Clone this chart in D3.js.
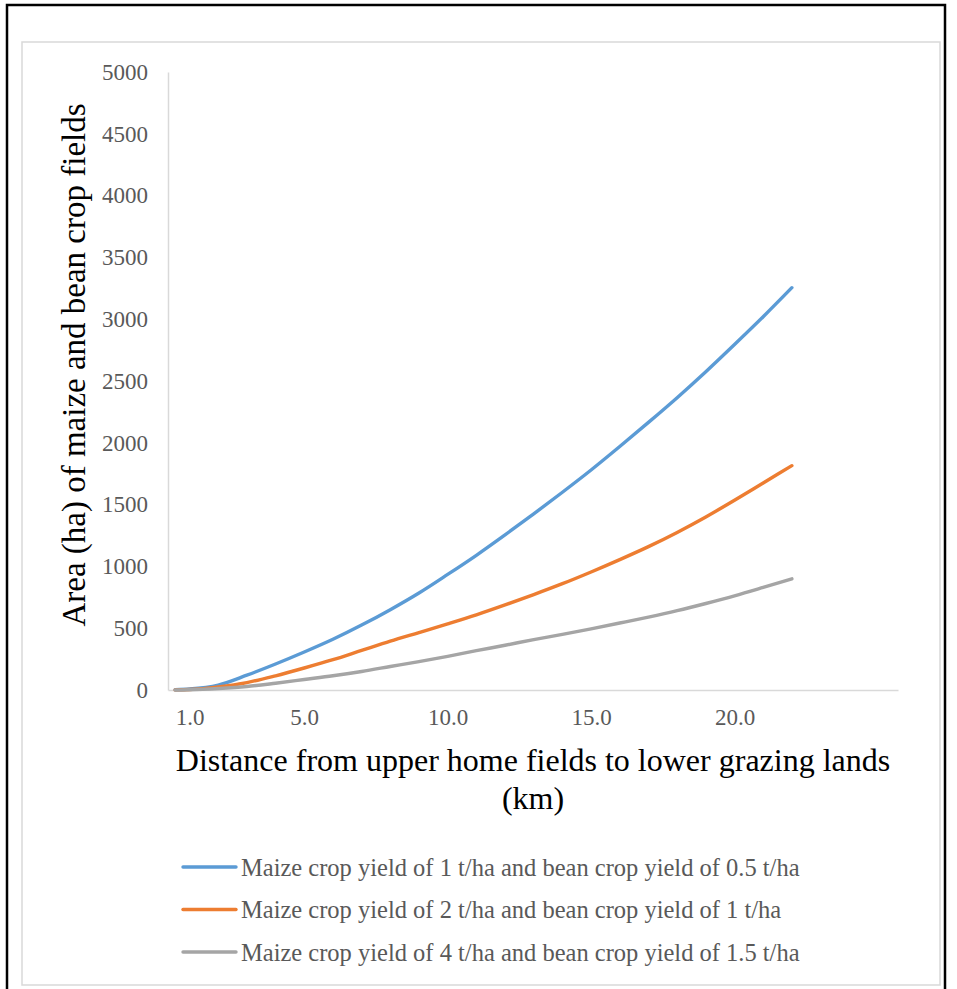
<!DOCTYPE html>
<html>
<head>
<meta charset="utf-8">
<script src="https://cdn.jsdelivr.net/npm/d3@7"></script>
<style>
  html, body { margin: 0; padding: 0; background: #fff; }
  svg { display: block; }
  text { font-family: "Liberation Serif", "Times New Roman", serif; }
</style>
</head>
<body>
<svg id="chart" width="957" height="989"></svg>
<script>
// ---- data ----
const distances = [0.5, 1, 2, 3, 4, 5, 6, 7, 8, 9, 10, 11, 12, 13, 14, 15, 16, 17, 18, 19, 20, 21, 22];
const maize1Bean05 = [2, 8, 40, 120, 210, 307, 410, 525, 650, 785, 935, 1090, 1255, 1425, 1600, 1780, 1970, 2165, 2365, 2575, 2795, 3020, 3255];
const maize2Bean1  = [1, 4, 25, 60, 115, 178, 245, 320, 395, 465, 535, 608, 688, 772, 860, 955, 1055, 1160, 1275, 1400, 1535, 1675, 1815];
const maize4Bean15 = [0, 2, 12, 28, 55, 85, 115, 150, 190, 230, 272, 318, 362, 408, 450, 495, 542, 590, 642, 700, 762, 830, 900];
const seriesNames = [
  "Maize crop yield of 1 t/ha and bean crop yield of 0.5 t/ha",
  "Maize crop yield of 2 t/ha and bean crop yield of 1 t/ha",
  "Maize crop yield of 4 t/ha and bean crop yield of 1.5 t/ha"
];
const seriesColors = ["#5b9bd5", "#ed7d31", "#a5a5a5"];
const xTickValues = [1, 5, 10, 15, 20];
const yTickValues = [0, 500, 1000, 1500, 2000, 2500, 3000, 3500, 4000, 4500, 5000];
const yTitle = "Area (ha) of maize and bean crop fields";
const xTitleLines = ["Distance from upper home fields to lower grazing lands", "(km)"];

const seriesValues = [maize1Bean05, maize2Bean1, maize4Bean15];

// ---- drawing ----
const svg = d3.select("#chart");
const textColor = "#595959";
const serif = "'Liberation Serif', 'Times New Roman', serif";

// outer black frame
svg.append("rect").attr("x", 7).attr("y", 5).attr("width", 938).attr("height", 990)
  .attr("fill", "none").attr("stroke", "#000").attr("stroke-width", 2.5);
// inner chart area border
svg.append("rect").attr("x", 22).attr("y", 42).attr("width", 918).attr("height", 943)
  .attr("fill", "#fff").attr("stroke", "#d9d9d9").attr("stroke-width", 1.5);

const plot = { left: 168, right: 898, top: 72, bottom: 690 };
const x = d3.scaleLinear().domain([0.25, 25.7]).range([plot.left, plot.right]);
const y = d3.scaleLinear().domain([0, 5000]).range([plot.bottom, plot.top]);

// y axis
const yAxis = svg.append("g").attr("transform", `translate(${plot.left},0)`)
  .call(d3.axisLeft(y).tickValues(yTickValues).tickSize(0).tickPadding(20).tickFormat(d3.format("d")));
yAxis.select(".domain").attr("stroke", "#d9d9d9").attr("stroke-width", 1.5);
yAxis.selectAll("text").style("font-family", serif).attr("font-size", 23).attr("fill", textColor);

// x axis
const xAxis = svg.append("g").attr("transform", `translate(0,${plot.bottom})`)
  .call(d3.axisBottom(x).tickValues(xTickValues).tickSize(0).tickPadding(19).tickFormat(d3.format(".1f")));
xAxis.select(".domain").attr("stroke", "#d9d9d9").attr("stroke-width", 1.5);
xAxis.selectAll("text").style("font-family", serif).attr("font-size", 23).attr("fill", textColor);

// lines
const line = d3.line()
  .x((d, i) => x(distances[i]))
  .y(d => y(d))
  .curve(d3.curveMonotoneX);

seriesValues.forEach((vals, k) => {
  svg.append("path").datum(vals)
    .attr("d", line)
    .attr("fill", "none")
    .attr("stroke", seriesColors[k])
    .attr("stroke-width", 3.4)
    .attr("stroke-linecap", "round")
    .attr("stroke-linejoin", "round");
});

// y title
svg.append("text")
  .attr("transform", `translate(85,365) rotate(-90)`)
  .attr("text-anchor", "middle")
  .style("font-family", serif)
  .attr("font-size", 33).attr("fill", "#000")
  .text(yTitle);

// x title
xTitleLines.forEach((t, i) => {
  svg.append("text")
    .attr("x", 533).attr("y", 771 + i * 38)
    .attr("text-anchor", "middle")
    .style("font-family", serif)
    .attr("font-size", 32).attr("fill", "#000")
    .text(t);
});

// legend
const legend = svg.append("g");
seriesNames.forEach((name, i) => {
  const yy = 867 + i * 42.5;
  legend.append("line").attr("x1", 183).attr("x2", 236).attr("y1", yy).attr("y2", yy)
    .attr("stroke", seriesColors[i]).attr("stroke-width", 3.4).attr("stroke-linecap", "round");
  legend.append("text").attr("x", 241).attr("y", yy).attr("dy", "0.35em")
    .style("font-family", serif)
    .attr("font-size", 24.5).attr("fill", textColor)
    .text(name);
});
</script>
</body>
</html>
